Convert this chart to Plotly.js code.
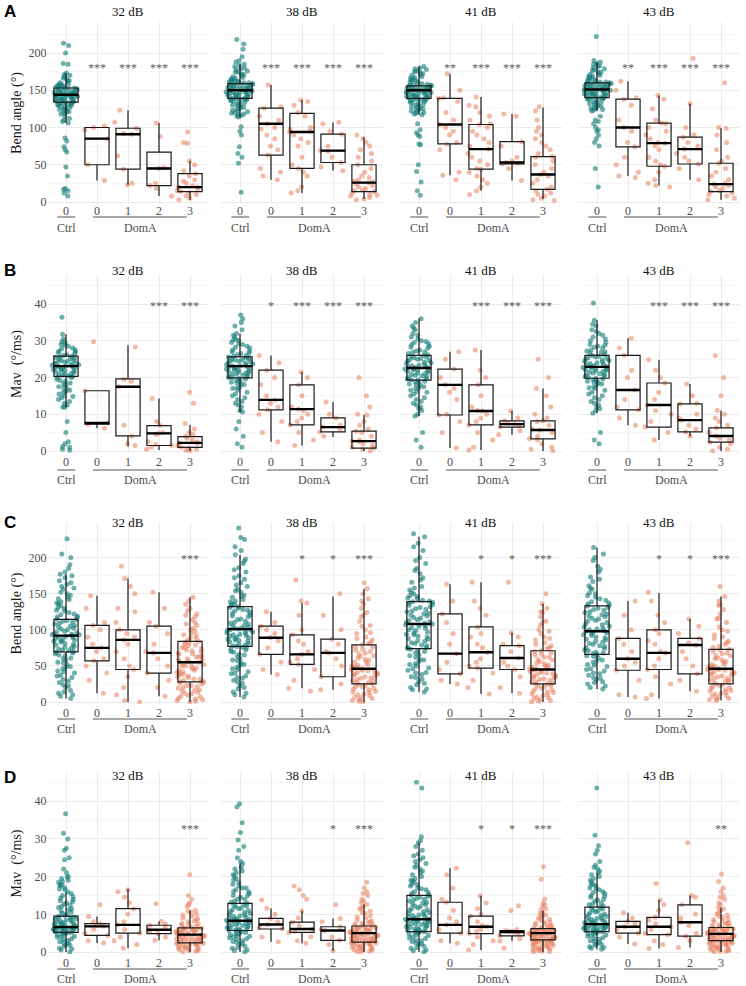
<!DOCTYPE html>
<html><head><meta charset="utf-8">
<script src="https://cdn.plot.ly/plotly-3.0.1.min.js"></script>
<style>html,body{margin:0;padding:0;background:#fff}#chart{width:746px;height:986px}</style>
</head><body><div id="chart"></div>
<script>
// ---------- DATA ----------
const panelTitles = ['32 dB','38 dB','41 dB','43 dB'];
const groupTicks = ['0','0','1','2','3'];
const groupNames = ['Ctrl','DomA'];
const rowLetters = ['A','B','C','D'];
const rowYTitles = ['Bend angle (°)','Mav\u00a0\u00a0(°/ms)','Bend angle (°)','Mav\u00a0\u00a0(°/ms)'];

// Row A : bend angle (panel order 32,38,41,43 dB)
const A_ctrl = [
[213,210,200,186,185,173,170,168,165,163,160,158,157,156,155,154,153,153,152,151,150,149,148,148,147,146,145,145,144,144,143,143,142,141,140,140,139,138,137,136,135,134,134,133,132,131,130,128,127,125,123,121,120,118,115,112,110,108,106,86,82,74,70,67,47,35,18,17,15,12,8,
 171,166,162,159,157,155,153,152,150,149,147,146,145,144,143,142,141,139,138,137,136,135,133,132,130,129,126,124,122,119],
[218,212,205,195,190,185,182,180,178,176,174,172,170,168,166,164,163,162,161,160,159,159,158,157,156,155,154,153,152,151,150,150,149,148,147,146,145,144,143,142,141,140,139,139,138,137,136,135,133,131,129,127,125,122,120,118,116,114,101,95,90,74,65,60,52,13,
 188,184,179,175,171,167,165,163,161,160,158,157,156,155,154,153,152,151,150,149,148,147,146,145,144,143,141,140,138,137,134,132,130,128,126,123,121,119,117,115],
[182,180,178,176,174,172,170,168,166,164,162,160,158,157,156,156,155,154,153,152,151,150,150,149,148,147,146,145,144,143,142,141,140,139,139,138,137,136,134,132,130,128,126,124,122,120,118,117,105,97,93,90,88,78,77,50,41,27,15,9,
 179,175,171,167,165,163,161,159,158,157,155,154,153,152,151,150,149,148,147,146,145,144,143,142,141,140,138,137,135,133,131,129,127,125,123,121,119],
[222,190,188,185,182,180,178,176,174,172,170,168,166,164,162,161,160,160,159,158,157,156,155,154,153,152,151,151,150,149,148,147,146,145,144,143,142,141,140,140,139,138,136,134,132,130,128,126,124,122,115,110,108,105,100,97,95,90,85,80,75,45,20,
 186,183,179,175,171,169,167,165,163,161,160,159,158,157,156,155,154,153,152,151,150,149,148,147,146,145,144,143,142,141,139,137,135,133,131,129,127,125,123]];
const A_d0 = [[102,100,97,85,50,29],[157,128,126,115,110,105,100,98,90,85,75,70,63,45,40,35,30],[172,150,140,139,135,120,110,104,100,95,90,80,78,70,40,36,30],[162,150,140,138,130,110,100,95,80,74,60,50,40,35,33]];
const A_d1 = [[123,107,99,92,91,62,44,25,23],[137,135,130,120,115,100,98,95,94,90,85,80,75,60,50,45,40,35,20,15,12],[141,130,128,120,115,110,105,104,100,95,90,85,80,75,71,65,60,55,50,45,44,40,35,30,25,20,15,10],[143,138,125,110,106,105,100,95,90,85,80,79,75,70,60,55,50,48,40,30,25,22,20]];
const A_d2 = [[106,88,46,45,25,22,18,8],[107,105,95,91,75,69,68,60,53,47,42],[118,115,81,75,60,55,53,52,51,45,29],[193,132,100,90,87,80,75,71,65,60,55,51,45,30]];
const A_d3 = [[94,80,79,55,50,42,38,35,30,28,25,22,20,20,18,15,14,12,10,8,5,3],[90,85,80,75,70,65,60,55,50,45,40,35,33,30,28,27,26,24,22,20,18,16,15,14,12,10,9,8,6,4,3],[128,122,110,100,95,90,85,80,75,70,65,61,60,55,50,45,40,37,35,30,25,20,17,15,12,10,8,5,3,2],[160,100,99,90,80,70,60,55,52,45,40,35,30,25,24,22,20,18,15,14,12,10,8,5,3]];
const A_med = [[144,85,91,45,20],[150,105,94,69,26],[150,104,71,53,37],[151,100,79,71,24]];
const A_q1  = [[134,50,44,22,14],[139,63,45,53,14],[139,78,44,51,17],[140,74,48,51,14]];
const A_q3  = [[153,100,99,67,38],[159,126,119,91,50],[156,139,104,81,61],[160,138,106,87,52]];
const A_lo  = [[106,29,23,8,3],[114,30,12,42,4],[117,36,15,29,4],[122,35,22,30,3]];
const A_hi  = [[173,100,123,106,55],[185,157,137,107,87],[182,172,141,118,127],[188,162,143,132,99]];
const A_sig = [['','***','***','***','***'],['','***','***','***','***'],['','**','***','***','***'],['','**','***','***','***']];

// Row B : Mav
const B_ctrl = [
[36.4,31.8,30.5,29.5,29,28.5,28,27.5,27,26.8,26.5,26,25.8,25.5,25.2,25,24.7,24.4,24,23.8,23.5,23.2,23,22.8,22.5,22.2,22,21.7,21.4,21,20.8,20.5,20.3,20,19.5,19,18.5,18,17.5,17,16.5,16,15,14.5,14,13,12.5,12,11.9,8,5,2.5,2,1.2,1,0.5,0.2,
 29.8,28.8,27.8,27.2,26.2,25.6,25.1,24.6,24.2,23.9,23.6,23.3,23.1,22.9,22.6,22.3,21.9,21.5,21.1,20.6,20.1,19.2,18.2,17.2,16.2,15.5,14.8,13.5],
[37,36,35,33,32,31,30.5,30,29.5,29,28.5,28,27.5,27,26.5,26,25.6,25.3,25,24.7,24.4,24,23.7,23.4,23.1,22.9,22.6,22.3,22,21.7,21.4,21,20.7,20.4,20,19.9,19.5,19,18.5,18,17.5,17,16,15,14,13,12,11,10.6,8,6,4,2,1,
 34,31.5,30.2,29.2,28.2,27.2,26.7,26.2,25.8,25.4,25.1,24.8,24.5,24.2,23.9,23.5,23.2,23,22.7,22.4,22.1,21.8,21.5,21.2,20.9,20.6,20.2,19.7,19.2,18.7,18.2,17.2,16.5,15.5,14.5,13.5,12.5],
[36,35,34,33,32,31,30,29.5,29,28.5,28,27.5,27,26.5,26,25.6,25.2,24.8,24.4,24,23.6,23.2,22.8,22.6,22.3,22,21.6,21.2,20.8,20.4,20,19.6,19.3,19,18.5,18,17.5,17,16.5,16,15,14,13,12,11,10,9.5,5,3,1,
 33.5,31.5,30.5,29.8,29.2,28.2,27.2,26.8,26.2,25.8,25.4,25,24.6,24.2,23.8,23.4,23,22.7,22.4,22.1,21.8,21.4,21,20.6,20.2,19.8,19.4,18.8,18.2,17.8,17.2,16.2,15.5,14.5,13.5,12.5,11.5],
[40.3,35.6,34,33,32,31,30,29,28.5,28,27.5,27,26.5,26,25.6,25.2,24.8,24.4,24,23.6,23.2,22.9,22.6,22.3,22,21.6,21.2,20.8,20.4,20,19.8,19.4,19,18.5,18,17.5,17,16,15,14,13,12,11,10.3,5,3,2,
 34.5,32.5,31.5,30.5,29.5,28.8,28.2,27.2,26.8,26.2,25.8,25.4,25,24.6,24.2,23.8,23.4,23,22.7,22.4,22.1,21.8,21.4,21,20.6,20.2,19.6,19.2,18.8,18.2,17.2,16.5,15.5,14.5,13.5,12.5,11.5]];
const B_d0 = [[29.7,16.4,7.6,7.3,6.2],[26,24,22,20,18,15,13.9,13,12,11.2,10,8,5,2.5],[27,25,22.3,20,18,17,16,14,10,9.8,8,5,0.8],[30.7,28,26,22,20,16.6,14,12,11.2,9,7]];
const B_d1 = [[28.3,19.5,19,17.5,7,4,2,1.5],[21.5,20,18,15,12,11.4,11,10,9,8,7.1,5,3,1.5],[27.5,22,20,18,15,12,11,10.9,10,9,8,7.1,5,3,1,0.3],[24.8,22,20,18.5,16,14,12.5,11,10,8,6.5,5,3]];
const B_d2 = [[14.3,8,7,5,4.8,4.5,2.5,1.8,1.5,1,0.5],[13.3,10,9,7,6.5,6,5.2,4],[10.9,9,8.2,7.5,7.3,7,6.5,5.5,4.4],[18.2,15,13,12.8,10,9,8.4,7,6,5.2,4]];
const B_d3 = [[16,13,7.5,6,5,4.5,4,3.5,3,2.5,2.2,2,1.5,1,0.8,0.5,0.2,0],[20,15,12,10,9.8,8,7,6,5.4,5,4,3,2.7,2.5,2,1.5,1,0.8,0.5,0],[25,20,17,15,12,10,9,8.2,8,7,6,5.7,5,4,3.3,3,2,1,0.5,0],[26,20,15,11,10,9,8,7,6.3,5,4.1,3.5,3,2.4,2,1,0.5,0]];
const B_med = [[23.1,7.6,17.5,4.8,2.2],[23.1,13.9,11.4,6.5,2.7],[22.6,18,10.9,7.3,5.7],[22.9,16.6,12.5,8.4,4.1]];
const B_q1  = [[20.3,7.3,4.1,1.5,1.0],[19.9,11.2,7.1,5.2,0.8],[19.3,9.8,7.1,6.5,3.3],[19.8,11.2,6.5,5.2,2.4]];
const B_q3  = [[25.8,16.4,19.6,6.9,3.9],[25.6,22,18,9,5.4],[26,22.3,18,8.2,8.2],[26,26,18.5,12.8,6.3]];
const B_lo  = [[11.9,6.2,1.2,0.3,0],[10.6,2.5,1.5,3.8,0],[9.5,0.8,0.3,4.4,0],[10.3,7,3,4,0]];
const B_hi  = [[31.8,16.4,28.8,14.3,7.1],[32,26,21.5,13.3,9.8],[36,27,27.5,10.9,17],[35.6,30.7,24.8,18.2,11]];
const B_sig = [['','','','***','***'],['','*','***','***','***'],['','','***','***','***'],['','','***','***','***']];

// Row C : bend angle
const C_ctrl = [
[226,205,200,190,185,180,177,172,168,163,160,156,152,148,145,142,139,136,133,130,127,124,121,119,117,115,114,112,110,108,106,104,102,100,98,96,94,93,92,91,89,87,85,83,81,79,77,75,73,71,70,69,67,64,61,58,55,52,49,46,43,40,37,34,31,27,24,20,16,12,10,8,5,
 175,165,158,150,143,137,131,126,122,118,113,109,105,101,97,95,93,90,88,86,84,80,76,72,68,65,60,54,48,42,36,29,22,14],
[241,228,225,210,204,198,192,186,180,175,170,165,160,156,152,148,145,142,139,136,134,132,130,128,126,124,121,118,115,112,110,108,106,104,102,101,100,99,97,95,93,91,89,87,85,83,81,79,78,77,75,72,69,66,63,60,57,54,51,48,45,42,39,36,33,30,26,22,18,14,10,7,
 215,195,183,172,162,154,146,140,135,131,127,123,119,114,109,105,102,100,98,96,94,92,90,88,86,84,80,76,73,70,65,58,52,46,40,34,28,20,12],
[233,229,220,210,200,192,185,178,172,166,160,155,150,146,143,140,139,137,134,131,128,125,122,119,116,113,111,109,108,107,105,102,99,96,93,90,87,84,81,78,76,74,73,71,68,65,62,59,56,53,50,47,44,41,38,35,32,28,24,20,17,14,
 215,196,182,169,158,152,147,144,141,138,135,132,129,126,123,120,117,114,110,106,103,100,97,94,91,88,85,82,79,75,70,64,58,52,46,40,34,26,18],
[214,205,196,188,180,173,167,161,156,151,147,143,139,136,133,131,128,125,122,119,116,113,110,107,104,101,99,98,97,95,92,89,86,83,80,77,74,71,69,67,66,64,61,58,55,52,49,46,43,40,37,34,31,28,25,22,18,
 200,184,170,158,150,145,141,137,134,130,127,124,121,118,115,112,108,105,102,100,96,93,90,87,84,81,78,75,72,68,63,57,51,45,39,33,27,20]];
const C_d0 = [[147,130,110,106,100,90,80,75,70,60,57,50,40,30,12],[125,110,105,100,95,89,85,75,66,55,45,38],[163,140,122,110,95,80,67,55,45,39,30,25],[140,120,100,88,80,70,60,55,50,44,30,10,7]];
const C_d1 = [[188,171,160,150,130,125,110,100,95,90,86,80,70,60,50,45,35,20,10,2,0],[169,140,137,120,100,93,85,80,70,66,60,55,52,45,30,19,15],[166,140,130,120,104,95,90,80,75,69,60,55,50,47,40,30,20,11],[152,140,120,110,100,95,85,80,70,68,60,50,45,35,25,10,5]];
const C_d2 = [[152,130,110,105,95,80,70,68,60,50,40,30,20,8],[150,120,100,87,80,70,68,60,50,35,25,17],[166,96,90,80,78,70,61,55,50,45,35,20,12],[115,105,95,88,82,79,70,60,50,39,30,15]];
const C_d3 = [
[145,140,135,130,126,122,118,114,110,106,102,98,95,92,89,86,84,82,80,78,76,74,72,70,68,66,64,62,60,58,56,55,54,52,50,48,46,44,42,40,38,36,34,32,30,28,27,25,23,21,19,17,15,13,11,9,7,5,3,1,0,
 120,108,100,93,88,83,79,75,71,67,63,59,56,53,50,47,44,41,38,35,32,29,26,23,20,16,12,8,4,2],
[165,157,150,143,136,130,124,118,112,106,100,95,90,86,82,79,76,73,70,67,64,61,58,55,52,50,48,46,45,43,41,39,37,35,33,31,29,27,25,23,21,19,17,15,13,11,9,7,5,3,1,0,
 140,120,105,96,88,81,77,72,68,63,59,55,51,48,46,44,42,40,38,36,33,30,27,24,21,18,14,10,6,2],
[150,136,130,124,118,112,106,100,95,90,86,82,78,74,71,68,65,62,59,56,53,50,48,46,45,44,42,40,38,36,34,32,30,28,26,25,23,21,19,17,15,13,11,9,7,5,3,1,0,
 125,110,98,88,80,75,70,66,62,58,54,51,48,46,45,43,41,39,37,35,33,31,28,25,22,18,14,10,6,2],
[160,146,140,134,128,122,116,110,104,98,93,88,84,80,76,73,70,67,64,61,58,55,52,50,48,46,45,43,41,39,37,35,33,31,29,27,25,23,21,19,17,15,13,11,9,7,5,3,2,
 135,115,100,90,82,77,72,68,64,60,56,52,49,47,46,45,44,42,40,38,36,33,30,27,24,20,16,12,8,4]];
const C_med = [[92,75,86,68,55],[101,89,66,68,46],[108,67,69,61,45],[98,60,68,79,46]];
const C_q1  = [[69.5,57,45,40,28],[77,66,52,35,25],[74,39,47,45,25],[66,44,45,39,25]];
const C_q3  = [[114.5,106,100,105,84],[132,105,93,87,79],[139,122,104,78,71],[133,88,100,88,73]];
const C_lo  = [[5,12,0,8,0],[7,38,19,17,0],[14,25,11,12,0],[18,7,5,15,2]];
const C_hi  = [[177,147,171,152,145],[204,125,137,146,157],[229,163,166,96,136],[214,140,151,115,146]];
const C_sig = [['','','','','***'],['','','*','*','***'],['','','*','*','***'],['','','*','*','***']];

// Row D : Mav
const D_ctrl = [
[36.7,31.5,30,27.5,27,25,24.5,22,21,20,19.5,19,18.5,18,17.5,17,16.5,15.9,15,14.3,13.6,13,12.4,11.8,11.2,10.6,10,9.5,9.2,8.9,8.6,8.3,8,7.7,7.4,7.1,6.9,6.7,6.6,6.5,6.3,6.1,5.9,5.7,5.5,5.3,5.2,5,4.8,4.5,4.2,3.9,3.5,3.1,2.7,2.3,1.9,1.5,1,0.5,0,
 19.8,18.7,17.7,16.7,15.5,14.7,13.9,13.3,12.7,12.1,11.5,10.9,10.3,9.7,9.3,9,8.7,8.4,8.1,7.8,7.5,7.2,7,6.8,6.6,6.4,6.2,6,5.8,5.6,5.4,5.1,4.6,4,3.3,2.5,1.7,0.8],
[39.3,38.5,34.3,31.7,29.7,28,27,25,24,23.5,22,21,20,19,18,17.5,17,16.5,16,15.5,15,14.5,14,13.5,12.9,12.4,12,11.5,11,10.5,10,9.6,9.2,8.9,8.6,8.3,8.1,7.8,7.5,7.2,6.9,6.6,6.3,6,5.8,5.7,5.4,5,4.6,4.2,3.8,3.4,3,2.5,2,1.5,1,0.5,0,
 22.5,21.5,20.5,19.5,18.5,17,16,15,14,13.2,12.6,12.2,11.7,11.2,10.7,10.2,9.8,9.4,9,8.7,8.4,8.2,7.9,7.6,7.3,7,6.7,6.4,6.1,5.9,5.6,5.2,4.8,4.4,4,3.5,2.8,2.2,1.2,0.3],
[45,43.5,30.6,29.6,29,27,26,25,24,23,22,21,20,19,18.5,18,17.5,17,16.5,16,15.5,15,14.5,14,13.5,13,12.5,12,11.5,11,10.5,10,9.7,9.4,9.1,8.8,8.7,8.5,8.2,7.9,7.6,7.3,7,6.7,6.4,6.1,5.8,5.5,5.4,5.1,4.8,4.4,4,3.6,3.2,2.8,2.4,2,1.5,1,0.5,0,
 28,25.5,24.5,23.5,22.5,21.5,20.5,19.5,18.8,17.8,16.8,15.8,15.2,14.7,14.2,13.7,13.2,12.7,12.2,11.7,11.2,10.7,10.2,9.8,9.3,8.9,8.6,8.3,8,7.7,7.4,7.1,6.8,6.5,6.2,5.9,5.6,5.2,4.6,3.8,3,2.2,1.2,0.3],
[43.5,31,28.2,27,24,23,22,21,20,19,18,17.5,17,16.5,16,15.5,15,14.5,14,13.5,13,12.5,11.9,11.4,10.9,10.4,9.9,9.5,9.1,8.7,8.4,8.1,7.8,7.5,7.4,7.2,7,6.8,6.6,6.4,6.2,6,5.8,5.6,5.4,5.1,4.8,4.5,4.2,3.8,3.4,3,2.6,2.2,1.8,1.4,1,0.7,
 26,22.5,21.5,20.5,19.5,18.5,17.8,16.8,15.8,14.8,13.8,12.8,12.2,11.6,11.1,10.6,10.1,9.7,9.3,8.9,8.5,8.2,7.9,7.6,7.3,7.1,6.9,6.7,6.5,6.3,6.1,5.9,5.7,5.5,5.2,4.9,4.3,3.6,2.8,2,1.2]];
const D_d0 = [[12.5,9.4,8,7.5,7,6.8,6,5,4.4,3,2.4],[13.8,11.6,10,8.9,8,7.3,6.5,6.1,4,2.7],[22.2,20.5,17,14,13.2,11,9,8,7.2,6,5,3,2.3],[10.4,9,8.1,7.5,6.7,6,5,4,2.1]];
const D_d1 = [[16.5,16,14.5,13,11.5,10,8,7.2,6,5,4,3,2,1],[17.5,16.5,15,14,10.9,9,7.9,7,6.1,5.5,5.2,4,3,2.3],[14.9,13,11.5,10,9.5,8,7,6.7,6,5.5,4.9,4,3,2,0.5],[18.2,13.8,12.5,11,9.2,8.5,7.5,6.7,6,5,4.6,3,2,0.9]];
const D_d2 = [[12.8,8.1,7.5,7.1,6.5,5.9,5.5,4.9,4,3.1],[12.5,8.9,8,6.7,6,5.7,4,3.1,2,0.3],[12.3,11,6,5.7,5.5,5.3,5,4.3,3.5,2.9,1],[29,15,14.5,12.5,10,9,7.9,7,5,4.2,3,1.2]];
const D_d3 = [
[20.5,15,14,13,12,11,10.5,10,9.5,9,8.5,8,7.6,7.2,6.8,6.4,6.2,6,5.8,5.6,5.4,5.2,5,4.8,4.6,4.5,4.3,4.1,3.9,3.7,3.5,3.3,3.1,2.9,2.7,2.5,2.4,2.2,2,1.8,1.6,1.4,1.2,1,0.8,0.6,0.4,0.2,0,
 12.5,10.8,9.8,8.8,8.2,7.4,7,6.6,6.3,6.1,5.9,5.7,5.5,5.3,5.1,4.9,4.7,4.4,4.2,4,3.8,3.6,3.4,3.2,3,2.8,2.6,2.3,2.1,1.9,1.5,1.1,0.7,0.3],
[18.5,17,16,15,14,13,12.6,12,11.4,10.8,10.2,9.6,9,8.5,8,7.6,7.2,6.9,6.7,6.4,6.1,5.9,5.7,5.5,5.3,5.1,5,4.8,4.6,4.4,4.2,4,3.8,3.6,3.4,3.2,3,2.8,2.6,2.4,2.2,2,1.8,1.6,1.4,1.2,1,0.8,0.6,0.4,0.2,0,
 15.5,13.5,11.7,10.5,9.3,8.2,7.8,7.4,7,6.8,6.5,6.3,6,5.8,5.6,5.4,5.2,5,4.9,4.7,4.5,4.3,4.1,3.9,3.7,3.5,3.3,3.1,2.9,2.7,2.5,2.3,2.1,1.7,1.3,0.9,0.5,0.1],
[22.6,19.3,14,13,12,11,10.4,9.8,9.2,8.6,8,7.6,7.2,6.8,6.5,6.2,6,5.8,5.6,5.4,5.2,5.1,5,4.9,4.7,4.5,4.3,4.1,3.9,3.7,3.5,3.3,3.2,3,2.8,2.6,2.4,2.2,2,1.8,1.6,1.4,1.2,1,0.8,0.6,0.4,0.2,0,
 12.5,11.5,10.1,9.5,8.9,8.3,7.8,7.4,7,6.6,6.3,6.1,5.9,5.7,5.5,5.3,5.1,5,4.9,4.8,4.6,4.4,4.2,4,3.8,3.6,3.4,3.1,2.9,2.7,2.5,2.3,2.1,1.7,1.3,0.9,0.5,0.1],
[20.7,18.7,16,15,14,13,11.8,11,10.4,9.8,9.2,8.6,8,7.6,7.2,6.8,6.5,6.3,6.1,5.9,5.7,5.5,5.3,5.1,4.9,4.8,4.7,4.5,4.3,4.1,3.9,3.7,3.5,3.3,3.1,3,2.8,2.6,2.4,2.2,2,1.8,1.6,1.4,1.2,1,0.8,0.6,0.4,0.2,0,
 17,14.5,12.5,11.4,10.1,9.5,8.9,8.3,7.8,7.4,7,6.6,6.4,6.2,6,5.8,5.6,5.4,5.2,5,4.9,4.8,4.6,4.4,4.2,4,3.8,3.6,3.4,3.2,3,2.7,2.5,2.3,2.1,1.7,1.3,0.9,0.5,0.1]];
const D_med = [[6.6,6.8,7.2,5.9,4.6],[8.3,7.3,6.1,5.7,5.0],[8.7,7.2,6.7,5.3,5.0],[7.4,6.7,6.7,7.9,4.8]];
const D_q1  = [[5.2,4.4,5.0,4.9,2.4],[5.7,6.1,5.2,3.1,2.6],[5.4,5.0,4.9,4.3,3.2],[5.4,5.0,4.6,4.2,3.0]];
const D_q3  = [[9.5,7.5,11.5,7.1,6.4],[12.9,8.9,7.9,6.7,6.9],[15,13.2,9.5,5.7,6.2],[11.9,8.1,9.2,12.5,6.5]];
const D_lo  = [[0,2.4,1,3.1,0],[0,2.7,2.3,0.3,0],[0,2.3,0.5,2.9,0],[0.7,2.1,0.9,1.2,0]];
const D_hi  = [[15.9,9.4,16.7,8.1,11],[23.5,11.6,10.9,8.9,12.6],[29,22.2,14.9,6.0,11],[21,10.4,13.8,15,11.8]];
const D_sig = [['','','','','***'],['','','','*','***'],['','','*','*','***'],['','','','','**']];

// ---------- LAYOUT CONFIG (pixels) ----------
const W = 746, H = 986;
const colLeft = [47.4, 221.4, 400.4, 578.4], colW = 161.2;
const rowCfg = [
  {top:22,  bottom:204, zero:202, ppu:0.745, dtick:50, minor:25, standoff:3, titleY:12,  letterY:11,  sigY:184,  lineY:217, labelY:228, tickShift:-2},
  {top:275, bottom:453, zero:451, ppu:3.675, dtick:10, minor:5,  standoff:9, titleY:270, letterY:270, sigY:40.3, lineY:470, labelY:480, tickShift:0},
  {top:523, bottom:704, zero:702, ppu:0.722, dtick:50, minor:25, standoff:3, titleY:522, letterY:522, sigY:202,  lineY:719, labelY:729, tickShift:0},
  {top:773, bottom:954, zero:952, ppu:3.77,  dtick:10, minor:5,  standoff:9, titleY:775, letterY:777, sigY:33.4, lineY:969, labelY:979, tickShift:0}
];
const rowsData = [
  {ctrl:A_ctrl, doms:[A_d0,A_d1,A_d2,A_d3], q1:A_q1, med:A_med, q3:A_q3, lo:A_lo, hi:A_hi, sig:A_sig},
  {ctrl:B_ctrl, doms:[B_d0,B_d1,B_d2,B_d3], q1:B_q1, med:B_med, q3:B_q3, lo:B_lo, hi:B_hi, sig:B_sig},
  {ctrl:C_ctrl, doms:[C_d0,C_d1,C_d2,C_d3], q1:C_q1, med:C_med, q3:C_q3, lo:C_lo, hi:C_hi, sig:C_sig},
  {ctrl:D_ctrl, doms:[D_d0,D_d1,D_d2,D_d3], q1:D_q1, med:D_med, q3:D_q3, lo:D_lo, hi:D_hi, sig:D_sig}
];

const SERIF = 'Liberation Serif, Times New Roman, serif';
const TEAL = 'rgba(23,128,122,0.62)';
const ORANGE = 'rgba(232,128,95,0.55)';
const CLEAR = 'rgba(0,0,0,0)';
const positions = [0,1,2,3,4];

const traces = [], annotations = [], shapes = [];
const layout = {
  width: W, height: H, margin: {l:0, r:0, t:0, b:0},
  paper_bgcolor: '#fff', plot_bgcolor: '#fff',
  showlegend: false, boxmode: 'overlay',
  font: {family: SERIF, size: 12, color: '#222'}
};

rowsData.forEach((rd, r) => {
  const cfg = rowCfg[r];
  const range = [(cfg.zero - cfg.bottom) / cfg.ppu, (cfg.zero - cfg.top) / cfg.ppu];
  const ydom = [1 - cfg.bottom / H, 1 - cfg.top / H];
  for (let c = 0; c < 4; c++) {
    const k = r * 4 + c + 1;
    const xa = 'x' + k, ya = 'y' + k;
    const xdom = [colLeft[c] / W, (colLeft[c] + colW) / W];

    // jittered points: control
    traces.push({
      type: 'box', xaxis: xa, yaxis: ya,
      x: rd.ctrl[c].map(() => positions[0]), y: rd.ctrl[c],
      boxpoints: 'all', jitter: 1, pointpos: 0, width: 0.92,
      marker: {color: TEAL, size: 5, line: {width: 0}},
      line: {color: CLEAR, width: 0}, fillcolor: CLEAR, hoverinfo: 'skip'
    });
    // jittered points: DomA
    const dx = [], dy = [];
    rd.doms.forEach((g, gi) => g[c].forEach(v => { dx.push(positions[gi + 1]); dy.push(v); }));
    traces.push({
      type: 'box', xaxis: xa, yaxis: ya, x: dx, y: dy,
      boxpoints: 'all', jitter: 1, pointpos: 0, width: 0.92,
      marker: {color: ORANGE, size: 5, line: {width: 0}},
      line: {color: CLEAR, width: 0}, fillcolor: CLEAR, hoverinfo: 'skip'
    });
    // box statistics
    traces.push({
      type: 'box', xaxis: xa, yaxis: ya, x: positions,
      q1: rd.q1[c], median: rd.med[c], q3: rd.q3[c],
      lowerfence: rd.lo[c], upperfence: rd.hi[c],
      boxpoints: false, width: 0.78, whiskerwidth: 0,
      line: {color: '#1a1a1a', width: 1.2}, fillcolor: CLEAR, hoverinfo: 'skip'
    });
    // thick median line
    traces.push({
      type: 'box', xaxis: xa, yaxis: ya, x: positions,
      q1: rd.med[c], median: rd.med[c], q3: rd.med[c],
      lowerfence: rd.med[c], upperfence: rd.med[c],
      boxpoints: false, width: 0.78, whiskerwidth: 0,
      line: {color: '#000', width: 2.4}, fillcolor: CLEAR, hoverinfo: 'skip'
    });

    layout['xaxis' + k] = {
      domain: xdom, anchor: ya, range: [-0.6, 4.6],
      tickmode: 'array', tickvals: positions, ticktext: groupTicks,
      showgrid: true, gridcolor: '#ebebeb', gridwidth: 1,
      zeroline: false, showline: false, ticks: '',
      ticklabelstandoff: cfg.tickShift,
      tickfont: {family: SERIF, size: 12, color: '#4d4d4d'}, fixedrange: true
    };
    const yax = {
      domain: ydom, anchor: xa, range: range,
      tick0: 0, dtick: cfg.dtick,
      showgrid: true, gridcolor: '#ebebeb', gridwidth: 1,
      minor: {dtick: cfg.minor, tick0: 0, showgrid: true, gridcolor: '#f4f4f4', gridwidth: 0.7},
      zeroline: false, showline: false, ticks: '',
      showticklabels: c === 0,
      tickfont: {family: SERIF, size: 12, color: '#4d4d4d'}, fixedrange: true
    };
    if (c === 0) {
      yax.title = {text: rowYTitles[r], font: {family: SERIF, size: 14, color: '#1a1a1a'}, standoff: cfg.standoff};
    }
    layout['yaxis' + k] = yax;

    // panel title
    annotations.push({
      xref: 'paper', yref: 'paper', x: (colLeft[c] + colW / 2) / W, y: 1 - cfg.titleY / H,
      text: panelTitles[c], showarrow: false, xanchor: 'center', yanchor: 'middle',
      font: {family: SERIF, size: 13, color: '#111'}
    });
    // significance marks
    rd.sig[c].forEach((s, gi) => {
      if (!s) return;
      annotations.push({
        xref: xa, yref: ya, x: positions[gi], y: cfg.sigY, text: s, showarrow: false,
        xanchor: 'center', yanchor: 'middle', yshift: -3,
        font: {family: SERIF, size: 12, color: '#5a5a5a'}
      });
    });
    // group labels + underlines
    annotations.push({
      xref: xa, yref: 'paper', x: 0, y: 1 - cfg.labelY / H, text: groupNames[0], showarrow: false,
      xanchor: 'center', yanchor: 'middle', font: {family: SERIF, size: 12, color: '#4d4d4d'}
    });
    annotations.push({
      xref: xa, yref: 'paper', x: 2.4, y: 1 - cfg.labelY / H, text: groupNames[1], showarrow: false,
      xanchor: 'center', yanchor: 'middle', font: {family: SERIF, size: 12, color: '#4d4d4d'}
    });
    shapes.push({type: 'line', xref: xa, yref: 'paper', x0: -0.28, x1: 0.3,
      y0: 1 - cfg.lineY / H, y1: 1 - cfg.lineY / H, line: {color: '#555', width: 1}});
    shapes.push({type: 'line', xref: xa, yref: 'paper', x0: 0.87, x1: 3.9,
      y0: 1 - cfg.lineY / H, y1: 1 - cfg.lineY / H, line: {color: '#555', width: 1}});
  }
  // row letter
  annotations.push({
    xref: 'paper', yref: 'paper', x: 2 / W, y: 1 - cfg.letterY / H, text: '<b>' + rowLetters[r] + '</b>',
    showarrow: false, xanchor: 'left', yanchor: 'middle',
    font: {family: 'Liberation Sans, Arial, sans-serif', size: 17, color: '#000'}
  });
});

layout.annotations = annotations;
layout.shapes = shapes;
Plotly.newPlot('chart', traces, layout, {staticPlot: true, displayModeBar: false});
</script>
</body></html>
